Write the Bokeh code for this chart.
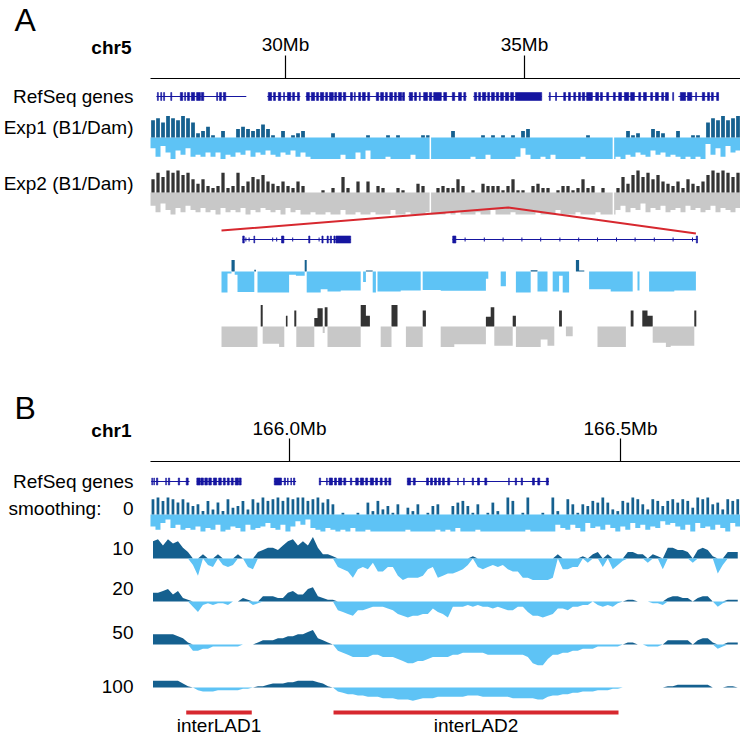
import numpy as np
from bokeh.plotting import figure
from bokeh.models import Range1d
from bokeh.embed import file_html
from bokeh.resources import INLINE
from bokeh.core.properties import value

# ===================== DATA =====================
# ---------- Panel A : chr5 overview ----------
A_TICKS_MB = [30.0, 35.0]
A_TICK_LABELS = ["30Mb", "35Mb"]
A_START_MB = 27.176
A_BIN_MB = 0.1046  # 118 bins

EXP1_UP = [8, 9, 7, 10, 9, 8, 10, 9, 7, 2, 3, 5, 1, 0, 3, 0, 0, 4, 5, 4, 3, 4, 6, 4,
           1, 0, 3, 0, 1, 2, 3,
           0, 0, 0, 0, 0, 2, 0, 0, 0, 0, 0, 0, 1, 0, 0, 0, 1, 0, 1, 0, 0, 0, 0, 1, 1, 0, 0, 0, 0,
           3, 0, 0, 0, 0, 0, 1, 0, 1, 0, 1, 0, 1, 0, 3, 4, 0, 0, 0, 0, 0, 0, 0, 0, 0, 0, 0, 1, 0, 0, 0, 0, 0,
           0, 0, 3, 1, 2, 0, 0, 4, 3, 2, 0, 0, 3, 0, 0, 1, 1, 0,
           7, 9, 8, 10, 8, 9, 10]
EXP1_DOWN = [5, 9, 4, 7, 10, 6, 8, 5, 9, 8, 9, 7, 9, 7, 10, 8, 9, 7, 8, 6, 9, 7, 8, 6,
             8, 9, 7, 8, 6, 9, 7,
             9, 10, 10, 10, 10, 10, 10, 8, 10, 10, 7, 10, 6, 10, 10, 10, 9, 10, 10, 10, 10, 8, 10, 10, 10, 10, 10, 10, 10,
             10, 10, 10, 10, 9, 10, 10, 8, 10, 10, 10, 10, 10, 9, 5, 8, 10, 10, 9, 10, 8, 10, 10, 10, 10, 10, 9, 10, 10, 10, 10, 10, 10,
             9, 10, 8, 9, 7, 8, 9, 6, 8, 7, 9, 8, 9, 10, 9, 10, 9, 10,
             3, 8, 5, 9, 4, 7, 6]
EXP2_UP = [6, 9, 7, 10, 9, 10, 8, 9, 6, 4, 6, 3, 2, 3, 9, 2, 3, 9, 3, 5, 7, 6, 8, 5,
           4, 3, 5, 3, 2, 5, 3,
           0, 0, 0, 1, 0, 2, 0, 7, 2, 0, 5, 0, 5, 0, 3, 2, 0, 0, 2, 1, 0, 0, 4, 3, 0, 0, 2, 3,
           2, 2, 6, 3, 0, 1, 0, 4, 3, 3, 3, 1, 3, 6, 1, 1, 0, 3, 4, 2, 2, 0, 1, 3, 3, 1, 2, 6, 2, 3, 0, 2, 0, 0,
           2, 7, 4, 8, 10, 7, 9, 6, 8, 5, 4, 3, 5, 2, 6, 4, 3, 5,
           8, 10, 9, 10, 9, 7, 9]
EXP2_DOWN = [6, 9, 5, 8, 10, 7, 9, 6, 8, 9, 7, 9, 8, 10, 7, 9, 8, 9, 7, 10, 8, 9, 7, 8, 9, 8, 10, 7, 9, 8, 10,
             10, 9, 10, 10, 9, 10, 10, 8, 10, 10, 9, 10, 10, 9, 10, 10, 10, 8, 10, 10, 9, 10, 10, 10, 9, 10, 10, 10, 9,
             10, 9, 10, 10, 10, 9, 10, 10, 8, 10, 10, 10, 9, 10, 10, 10, 10, 9, 10, 10, 10, 8, 10, 10, 10, 9, 10, 10, 10, 9, 10, 10, 10,
             8, 6, 9, 7, 8, 5, 9, 7, 8, 6, 9, 8, 7, 9, 6, 8, 7, 9, 8, 6, 9, 7, 8, 9, 7]
A_GAPS_MB = [33.03, 36.86]

A_GENE_SPANS = [(27.30, 29.18), (29.62, 30.31), (30.42, 32.49), (32.57, 33.79),
                (33.93, 35.36), (35.50, 38.01), (38.22, 39.06)]
A_EXONS = [(27.32, 27.34), (27.39, 27.41), (27.45, 27.47), (27.60, 27.62), (27.80, 27.85), (27.89, 27.91),
           (27.95, 27.99), (28.03, 28.10), (28.14, 28.22), (28.24, 28.29), (28.56, 28.58), (28.62, 28.66),
           (28.70, 28.75),
           (29.64, 29.71), (29.75, 29.79), (29.85, 29.90), (29.96, 29.98), (30.04, 30.11), (30.15, 30.19),
           (30.25, 30.29),
           (30.44, 30.50), (30.54, 30.61), (30.65, 30.69), (30.73, 30.80), (30.84, 30.88), (30.92, 31.00),
           (31.03, 31.07), (31.11, 31.17), (31.21, 31.26), (31.36, 31.40), (31.44, 31.46), (31.53, 31.57),
           (31.61, 31.67), (31.72, 31.76), (31.90, 31.95), (31.99, 32.05), (32.09, 32.13), (32.18, 32.24),
           (32.28, 32.32), (32.36, 32.43), (32.45, 32.49),
           (32.59, 32.66), (32.70, 32.74), (32.80, 32.82), (32.89, 32.97), (33.01, 33.06), (33.10, 33.26),
           (33.31, 33.37), (33.49, 33.54), (33.62, 33.68), (33.73, 33.77),
           (33.95, 34.00), (34.04, 34.08), (34.12, 34.19), (34.23, 34.27), (34.31, 34.37), (34.41, 34.46),
           (34.50, 34.56), (34.60, 34.67), (34.71, 34.77), (34.81, 35.36),
           (35.52, 35.54), (35.65, 35.67), (35.82, 35.86), (35.92, 35.96), (36.03, 36.07), (36.13, 36.17),
           (36.21, 36.26), (36.30, 36.42), (36.49, 36.55), (36.59, 36.63), (36.72, 36.76), (36.86, 36.90),
           (36.97, 37.03), (37.09, 37.18), (37.22, 37.30), (37.39, 37.43), (37.49, 37.55), (37.64, 37.68),
           (37.74, 37.80), (37.87, 37.91), (37.95, 38.01), (38.10, 38.12), (38.26, 38.37), (38.41, 38.50),
           (38.58, 38.60), (38.72, 38.77), (38.83, 38.87), (38.91, 38.95), (39.02, 39.06)]

# ---------- Panel A : zoomed region (kb from ZOOM_START_MB) ----------
ZOOM_START_MB = 34.60
ZOOM_SPAN_KB = 119.0
ZEXP1_EDGES = [0, 1.5, 2.5, 3.3, 4.0, 8.2, 8.6, 9.0, 16.9, 18.6, 20.8, 21.3, 24.8, 26.5, 29.8, 34.8,
               35.4, 36.1, 37.8, 38.6, 39.0, 44.8, 49.8, 50.3, 54.8, 66.1, 66.7, 69.8, 71.1, 73.6, 77.3,
               79.0, 81.5, 82.8, 84.4, 85.3, 86.9, 88.6, 89.4, 90.7, 91.9, 97.3, 102.8, 104.0, 104.5,
               106.9, 113.2, 118.6]
ZEXP1_VALS = [-1.0, -0.1, 0.55, -0.15, -0.98, 0.08, 0, -1.0, -0.15, -0.2, 0.55, -1.0, -0.85, -0.95,
              -0.9, 0, -0.5, 0.05, -1.0, 0, -0.95, -0.9, 0, -0.88, -0.92, -0.35, 0, -0.7, 0, -1.0, 0.06,
              -0.95, 0, -0.95, -0.2, -1.0, 0, 0.55, 0.05, 0, -0.85, -0.95, 0, -0.9, 0, -0.95, -0.9]
ZEXP2_EDGES = [0, 9.0, 9.8, 10.3, 14.4, 15.7, 16.1, 16.5, 18.2, 18.7, 23.2, 24.0, 25.3, 25.8, 26.5,
               34.8, 36.1, 37.1, 39.8, 42.5, 44.0, 46.1, 50.3, 51.1, 54.8, 58.2, 66.1, 67.3, 68.2, 72.8,
               73.6, 79.8, 81.5, 83.2, 84.4, 85.1, 86.1, 87.8, 94.0, 101.1, 102.3, 103.0, 105.2, 106.5,
               107.8, 111.1, 112.3, 118.2, 118.7]
ZEXP2_VALS = [-0.95, 0, 1.0, -0.8, -0.95, 0, 0.5, 0, 0.75, -0.95, 0.4, 0.85, -0.3, 0.9, -0.95,
              1.0, 0.5, 0, -0.95, 1.0, 0, -0.95, 0.75, 0, -0.95, -0.82, 0.45, 0.9, -0.9, 0.5,
              -0.95, -0.6, -0.9, 0, 0.75, 0, -0.45, 0, -0.95, 0, 0.75, 0, 0.75, 0.5,
              -0.75, -0.95, -0.9, 0.75]
ZGENE_SPANS = [(5.25, 32.3), (57.75, 119.0)]
ZGENE_EXONS = [(5.3, 5.7), (8.1, 8.3), (15.0, 15.6), (21.8, 22.1), (25.1, 25.4), (26.4, 26.7),
               (27.2, 27.5), (28.1, 28.4), (28.6, 32.3), (57.8, 58.6), (118.7, 119.0)]
ZGENE_TICKS = [6.1, 6.9, 12.8, 13.8, 17.8, 24.4, 60.9, 65.7, 70.4, 75.1, 79.8, 84.6, 89.3, 94.0,
               98.75, 103.4, 108.2, 112.9, 117.75]

# ---------- Panel B : chr1 smoothing ----------
B_TICKS_MB = [166.0, 166.5]
B_TICK_LABELS = ["166.0Mb", "166.5Mb"]
B_START_MB = 165.790
B_BIN_MB = 0.00755  # 118 bins

S0_UP = [9, 10, 8, 10, 9, 7, 9, 7, 5, 6, 2, 8, 3, 7, 2, 9, 4, 5, 8, 3, 9, 7, 10, 8,
         9, 10, 8, 10, 9, 10, 10, 8, 9, 10, 7, 9, 6, 0, 1, 0, 0, 1, 0, 7, 2, 8, 3,
         5, 1, 6, 0, 4, 2, 6, 0, 1, 5, 6, 0, 0, 5, 7, 8, 5, 1, 6, 0, 1, 7, 2, 0, 10, 8,
         0, 1, 10, 0, 0, 1, 0, 10, 2, 0, 9, 6, 1, 6, 5, 8, 7, 10,
         7, 3, 2, 8, 7, 10, 9, 6, 3, 9, 8, 5, 8, 9, 7, 9, 8, 4, 10, 9, 10, 6, 7, 3, 9, 8, 9]
S0_DOWN = [7, 9, 5, 3, 8, 6, 9,
           8, 9, 7, 10, 8, 9, 6, 10, 9, 7, 8, 10, 6, 9, 8, 7, 5, 8, 9, 6, 10, 7, 4, 6, 3, 8, 9, 10, 8, 9,
           10, 9, 10, 8, 10, 10, 9, 10, 10, 10, 10, 10, 10, 10, 9, 10, 10, 10, 10, 10, 9, 10,
           9, 10, 8, 10, 10, 10, 9, 10, 10, 10, 10, 10, 10, 10, 10, 10, 9, 10, 10, 10, 10, 10, 6, 8,
           9, 6, 8, 10, 5, 8, 7, 9, 6, 8, 10, 7, 9, 5, 8, 6, 9, 7, 8, 4, 6, 5, 7, 9, 6, 10, 5, 8, 7, 9, 6, 8, 10, 5, 7]
S10 = [8, 9, 6, 9, 7, 8, 5, 3, -3, -8, 2, -3, -4, 2, -3, -4, -3, 2, 0, -4,
       -5, 3, 4, 5, 5, 4, 6, 8, 9, 6, 8, 6, 10, 5, 2, 2, 1, -4, -5, -6,
       -9, -5, -4, -5, -2, -6, -6, -4, -4, -8, -10, -9, -9, -9, -8, -5, -4, -9, -8, -7,
       -7, -6, -5, -3, 1, -4, -5, -4, -3, -4, -3, -5, -6, -6, -9, -9, -10, -10, -10, -10,
       -9, 2, -5, -5, -4, -4, 1, -2, 2, 3, -4, 2, -5, -3, -1, 3, 3, 2, 2, -2,
       2, 1, -5, 5, 5, 4, 4, 3, -2, 4, 5, 4, 1, -7, -3, 3, 3, 3]
S20 = [5, 5, 6, 7, 4, 6, 2, 1, -3, -6, -2, -1, -2, -1, -1, -2, 0, 0, 2, 1,
       -2, -1, 3, 3, 3, 2, 2, 5, 6, 4, 4, 7, 8, 3, 2, 1, 1, -5, -6, -7,
       -8, -5, -5, -4, -3, -3, -3, -4, -5, -7, -8, -9, -8, -8, -7, -7, -4, -6, -7, -9,
       -3, -3, -3, -2, -3, -2, -3, -3, -4, -3, -4, -5, -5, -3, -3, -6, -8, -8, -9, -8,
       -7, -4, -4, -5, -3, -3, -2, -2, 0, -2, -3, -2, -3, -1, 0, 1, 1, 0, 0, 0,
       -1, -1, -2, 2, 3, 3, 2, 2, 0, 2, 3, 3, 0, -3, -1, 1, 1, 1]
S50 = [5, 5, 5, 5, 5, 4, 3, 1, -3, -3, -2, -2, -1, -1, -1, -1, -1, -1, 0, 0,
       0, 1, 2, 2, 2, 3, 3, 4, 4, 5, 5, 6, 7, 3, 2, 1, 0, -3, -4, -5,
       -6, -6, -6, -6, -5, -5, -6, -6, -6, -7, -8, -9, -9, -8, -8, -7, -6, -6, -6, -6,
       -5, -5, -4, -4, -4, -4, -4, -5, -5, -5, -5, -5, -5, -5, -5, -6, -9, -10, -10, -7,
       -5, -5, -4, -4, -3, -3, -2, -2, -2, -1, -1, -1, -1, -1, 0, 1, 1, 0, 0, -1,
       -1, -1, 0, 2, 2, 2, 2, 2, 0, 2, 3, 3, 1, -2, -1, 1, 1, 1]
S100 = [5, 5, 5, 5, 5, 5, 3, 1, 0, -2, -3, -3, -3, -2, -2, -2, -2, -2, -1, -1,
        0, 1, 1, 2, 3, 3, 3, 4, 4, 5, 5, 5, 5, 4, 3, 1, 0, -3, -4, -5,
        -5, -6, -6, -7, -7, -7, -8, -8, -8, -9, -9, -9, -10, -9, -8, -8, -8, -7, -7, -7,
        -7, -7, -7, -6, -6, -6, -7, -7, -7, -7, -7, -7, -8, -8, -8, -8, -8, -9, -9, -7,
        -6, -6, -5, -5, -4, -4, -3, -3, -3, -2, -2, -2, -1, -1, 0, 0, 0, 0, 0, 0,
        0, 0, 0, 1, 1, 2, 2, 2, 2, 2, 2, 2, 0, 0, 0, 1, 1, 0]

B_GENE_SPANS = [(165.791, 165.849), (165.860, 165.927), (165.977, 166.010), (166.045, 166.153),
                (166.178, 166.392)]
B_EXONS = [(165.792, 165.793), (165.795, 165.796), (165.799, 165.801), (165.813, 165.814),
           (165.817, 165.819), (165.832, 165.834), (165.844, 165.847),
           (165.860, 165.865), (165.866, 165.870), (165.872, 165.876), (165.878, 165.882),
           (165.885, 165.890), (165.893, 165.897), (165.900, 165.903), (165.906, 165.909),
           (165.912, 165.915), (165.918, 165.923), (165.924, 165.927),
           (165.977, 165.988), (165.992, 165.994), (165.997, 165.998), (166.002, 166.003),
           (166.006, 166.008),
           (166.045, 166.047), (166.056, 166.057), (166.060, 166.065), (166.068, 166.071),
           (166.074, 166.079), (166.082, 166.085), (166.092, 166.094), (166.100, 166.104),
           (166.107, 166.112), (166.115, 166.118), (166.122, 166.127), (166.130, 166.133),
           (166.137, 166.140), (166.144, 166.147), (166.150, 166.153),
           (166.178, 166.183), (166.187, 166.190),
           (166.207, 166.210), (166.213, 166.216), (166.219, 166.222), (166.225, 166.228),
           (166.231, 166.234), (166.239, 166.242), (166.254, 166.255), (166.263, 166.264),
           (166.276, 166.278), (166.284, 166.287), (166.295, 166.298), (166.331, 166.332),
           (166.341, 166.343), (166.350, 166.352), (166.367, 166.370), (166.375, 166.378),
           (166.388, 166.391)]
INTERLAD_NAMES = ["interLAD1", "interLAD2"]
INTERLAD_START = [165.844, 166.0665]
INTERLAD_END = [165.943, 166.497]

# ===================== LAYOUT / STYLE =====================
W, H = 740, 735
OX, OY = 0, 0
A_TICK_PX = (285, 524)
B_TICK_PX = (289, 620)
Z_PX = (221, 697)
FONT = value("Liberation Sans")
LAD_DARK = "#15608f"
LAD_LIGHT = "#5ec3f5"
G_DARK = "#333333"
G_LIGHT = "#c8c8c8"
GENE = "#1515a0"
RED = "#d7282f"

p = figure(width=W, height=H, x_range=Range1d(OX, OX + W), y_range=Range1d(OY + H, OY),
           output_backend="svg", toolbar_location=None,
           x_axis_location=None, y_axis_location=None, min_border=0)
p.outline_line_color = None
p.grid.visible = False
p.background_fill_color = "white"
p.border_fill_color = "white"


def genomic_range(t0, t1, px0, px1):
    ppu = (px1 - px0) / (t1 - t0)
    return Range1d(t0 + (OX - px0) / ppu, t0 + (OX + W - px0) / ppu), ppu


rA, a_ppu = genomic_range(A_TICKS_MB[0], A_TICKS_MB[1], *A_TICK_PX)
rB, b_ppu = genomic_range(B_TICKS_MB[0], B_TICKS_MB[1], *B_TICK_PX)
rZ, z_ppu = genomic_range(0.0, ZOOM_SPAN_KB, *Z_PX)
p.extra_x_ranges = {"A": rA, "B": rB, "Z": rZ}


def track_range(baseline, px_per_unit):
    return Range1d((baseline - (OY + H)) / px_per_unit, (baseline - OY) / px_per_unit)


TRACKS = {"exp1": (137, 2.15), "exp2": (192, 2.2), "zexp1": (271, 21.0), "zexp2": (326, 21.5),
          "s0": (514, 1.7), "s10": (558, 2.15), "s20": (601, 1.77), "s50": (644, 2.07),
          "s100": (687, 1.33)}
p.extra_y_ranges = {k: track_range(*v) for k, v in TRACKS.items()}


def steps(edges, vals):
    xs = np.repeat(np.asarray(edges, float), 2)[1:-1]
    ys = np.repeat(np.asarray(vals, float), 2)
    return xs, ys


def bar_track(start, binw, up, down, xr, yr, c_up, c_dn, up_frac=None):
    edges = start + binw * np.arange(len(up) + 1)
    xs, yu = steps(edges, up)
    _, yd = steps(edges, down)
    p.varea(x=xs, y1=-yd, y2=0, fill_color=c_dn, x_range_name=xr, y_range_name=yr)
    if up_frac is None:
        p.varea(x=xs, y1=0, y2=yu, fill_color=c_up, x_range_name=xr, y_range_name=yr)
    else:
        centers = start + binw * (np.arange(len(up)) + 0.5)
        p.vbar(x=centers, width=binw * up_frac, bottom=0, top=up, fill_color=c_up,
               line_color=None, x_range_name=xr, y_range_name=yr)


def signed_step_track(edges, vals, xr, yr, c_up, c_dn):
    xs, ys = steps(edges, vals)
    p.varea(x=xs, y1=0, y2=np.maximum(ys, 0), fill_color=c_up, x_range_name=xr, y_range_name=yr)
    p.varea(x=xs, y1=np.minimum(ys, 0), y2=0, fill_color=c_dn, x_range_name=xr, y_range_name=yr)


def smooth_track(start, binw, vals, yr):
    v = np.asarray(vals, float)
    xs = start + binw * (np.arange(len(v)) + 0.5)
    p.varea(x=xs, y1=0, y2=np.maximum(v, 0), fill_color=LAD_DARK, x_range_name="B", y_range_name=yr)
    p.varea(x=xs, y1=np.minimum(v, 0), y2=0, fill_color=LAD_LIGHT, x_range_name="B", y_range_name=yr)


def genes(spans, exons, xr, yc, h, ticks=None):
    s = np.array(spans)
    p.segment(x0=s[:, 0], x1=s[:, 1], y0=yc, y1=yc, line_color=GENE, line_width=1, x_range_name=xr)
    e = np.array(exons)
    p.quad(left=e[:, 0], right=e[:, 1], top=yc - h / 2, bottom=yc + h / 2, fill_color=GENE,
           line_color=GENE, line_width=0.6, x_range_name=xr)
    if ticks is not None:
        p.segment(x0=ticks, x1=ticks, y0=yc - 2, y1=yc + 2, line_color=GENE, line_width=1, x_range_name=xr)


def text(xs, ys, ts, align="right", size="19px", style="normal", xr=None):
    kw = dict(x=xs, y=ys, text=ts, text_font=FONT, text_font_size=size, text_font_style=style,
              text_align=align, text_baseline="middle", text_color="black")
    if xr:
        kw["x_range_name"] = xr
    p.text(**kw)


def ruler(ticks, labels, xr, start, end, y_line, y_tick, y_lab):
    p.segment(x0=[start], x1=[end], y0=y_line, y1=y_line, line_color="black", line_width=1.2, x_range_name=xr)
    p.segment(x0=ticks, x1=ticks, y0=y_tick, y1=y_line, line_color="black", line_width=1.2, x_range_name=xr)
    text(ticks, [y_lab] * len(ticks), labels, align="center", xr=xr)


# ===================== PANEL A =====================
A_END_MB = A_START_MB + A_BIN_MB * len(EXP1_UP)
text([14], [19], ["A"], align="left", size="32px")
text([131], [47], ["chr5"], style="bold")
ruler(A_TICKS_MB, A_TICK_LABELS, "A", A_START_MB, A_END_MB + 0.1, 78, 55, 44)
text([133, 133, 133], [96, 127, 183], ["RefSeq genes", "Exp1 (B1/Dam)", "Exp2 (B1/Dam)"])
genes(A_GENE_SPANS, A_EXONS, "A", 96, 8)

bar_track(A_START_MB, A_BIN_MB, EXP1_UP, EXP1_DOWN, "A", "exp1", LAD_DARK, LAD_LIGHT, up_frac=0.75)
bar_track(A_START_MB, A_BIN_MB, EXP2_UP, EXP2_DOWN, "A", "exp2", G_DARK, G_LIGHT, up_frac=0.65)
p.segment(x0=A_GAPS_MB, x1=A_GAPS_MB, y0=112, y1=218, line_color="white", line_width=1.5, x_range_name="A")

# zoom connector (points placed through the same mappings as the ranges)
apex_mb = ZOOM_START_MB + ZOOM_SPAN_KB / 2000.0
apex_px = A_TICK_PX[0] + (apex_mb - A_TICKS_MB[0]) * a_ppu
zl_px = Z_PX[0] + ZEXP1_EDGES[0] * z_ppu
zr_px = Z_PX[0] + ZEXP1_EDGES[-1] * z_ppu
p.line(x=[zl_px, apex_px, zr_px], y=[230, 207, 233], line_color=RED, line_width=2)

genes(ZGENE_SPANS, ZGENE_EXONS, "Z", 239, 7, ticks=ZGENE_TICKS)
signed_step_track(ZEXP1_EDGES, ZEXP1_VALS, "Z", "zexp1", LAD_DARK, LAD_LIGHT)
signed_step_track(ZEXP2_EDGES, ZEXP2_VALS, "Z", "zexp2", G_DARK, G_LIGHT)

# ===================== PANEL B =====================
B_END_MB = B_START_MB + B_BIN_MB * len(S10)
text([14], [407], ["B"], align="left", size="32px")
text([131], [430], ["chr1"], style="bold")
ruler(B_TICKS_MB, B_TICK_LABELS, "B", B_START_MB, B_END_MB + 0.01, 461, 438, 428)
text([133], [481], ["RefSeq genes"])
text([8], [508], ["smoothing:"], align="left")
text([133, 133, 133, 133, 133], [508, 548, 588, 632, 686], ["0", "10", "20", "50", "100"])
genes(B_GENE_SPANS, B_EXONS, "B", 481, 7)

bar_track(B_START_MB, B_BIN_MB, S0_UP, S0_DOWN, "B", "s0", LAD_DARK, LAD_LIGHT, up_frac=0.55)
smooth_track(B_START_MB, B_BIN_MB, S10, "s10")
smooth_track(B_START_MB, B_BIN_MB, S20, "s20")
smooth_track(B_START_MB, B_BIN_MB, S50, "s50")
smooth_track(B_START_MB, B_BIN_MB, S100, "s100")

p.segment(x0=INTERLAD_START, x1=INTERLAD_END, y0=712, y1=712, line_color=RED, line_width=4, x_range_name="B")
mid = [(s + e) / 2 for s, e in zip(INTERLAD_START, INTERLAD_END)]
text(mid, [725, 725], INTERLAD_NAMES, align="center", xr="B")

open("out.html", "w").write(file_html(p, INLINE))
